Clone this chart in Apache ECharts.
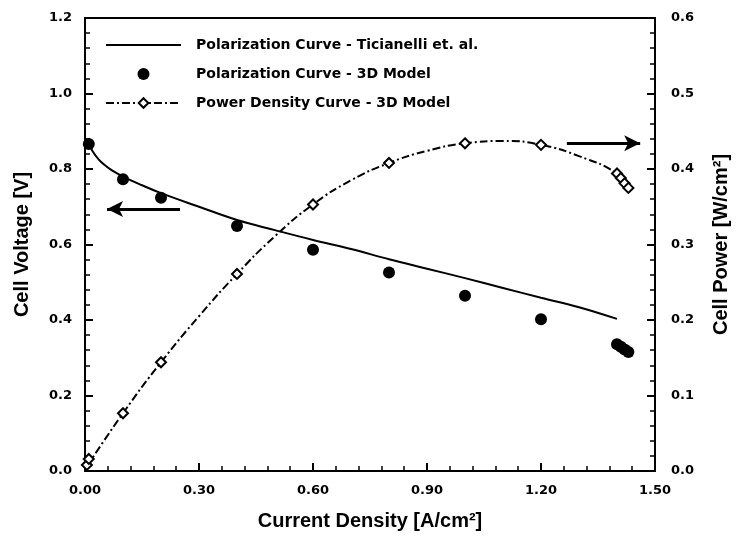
<!DOCTYPE html>
<html>
<head>
<meta charset="utf-8">
<script src="https://cdn.jsdelivr.net/npm/echarts@6/dist/echarts.min.js"></script>
<style>
html,body{margin:0;padding:0;background:#fff;}
#chart{width:741px;height:538px;}
</style>
</head>
<body>
<div id="chart"></div>
<script>
// Ticianelli polarization curve
const currentTic = [0.01, 0.02, 0.037, 0.05, 0.07, 0.1, 0.15, 0.2, 0.3, 0.4, 0.5, 0.6, 0.7, 0.8, 0.9, 1.0, 1.1, 1.2, 1.3, 1.40];
const voltageTic = [0.868, 0.847, 0.824, 0.812, 0.797, 0.780, 0.757, 0.736, 0.700, 0.665, 0.638, 0.612, 0.588, 0.561, 0.536, 0.511, 0.485, 0.459, 0.434, 0.403];
// 3D model polarization points
const currentModel = [0.01, 0.1, 0.2, 0.4, 0.6, 0.8, 1.0, 1.2, 1.40, 1.41, 1.42, 1.43];
const voltageModel = [0.866, 0.773, 0.724, 0.649, 0.586, 0.526, 0.464, 0.402, 0.336, 0.329, 0.322, 0.315];
// 3D model power density points
const currentPower = [0.005, 0.01, 0.1, 0.2, 0.4, 0.6, 0.8, 1.0, 1.2, 1.40, 1.41, 1.42, 1.43];
const powerModel = [0.008, 0.016, 0.0765, 0.144, 0.261, 0.353, 0.408, 0.434, 0.432, 0.394, 0.388, 0.381, 0.375];
// power density fitted curve (dash-dot)
const currentPowerCurve = [0.005, 0.1, 0.2, 0.3, 0.4, 0.5, 0.6, 0.7, 0.8, 0.9, 1.0, 1.1, 1.2, 1.3, 1.4, 1.43];
const powerCurve = [0.006, 0.0765, 0.144, 0.205, 0.261, 0.311, 0.353, 0.385, 0.408, 0.424, 0.434, 0.437, 0.432, 0.417, 0.394, 0.375];
// axis ticks
const xTicks = [0, 0.3, 0.6, 0.9, 1.2, 1.5];
const voltTicks = [0, 0.2, 0.4, 0.6, 0.8, 1.0, 1.2];
const powerTicks = [0, 0.1, 0.2, 0.3, 0.4, 0.5, 0.6];
// arrows [x1, y1, x2, y2]
const arrowVoltage = [0.25, 0.694, 0.058, 0.694];
const arrowPower = [1.268, 0.434, 1.461, 0.434];

const FONT = 'Liberation Sans';
const FONT2 = 'DejaVu Sans';
const zip = (a, b) => a.map((v, i) => [v, b[i]]);
const PNAME = 'Power Density Curve - 3D Model';

const chart = echarts.init(document.getElementById('chart'), null, {renderer: 'canvas'});

function axisCommon() {
  return {
    axisLine: {show: true, onZero: false, lineStyle: {color: '#000', width: 2}},
    axisTick: {show: true, inside: true, length: 8, lineStyle: {color: '#000', width: 2}},
    minorTick: {show: true, splitNumber: 5, length: 5, lineStyle: {color: '#000', width: 1.5}},
    splitLine: {show: false},
    minorSplitLine: {show: false}
  };
}
const nameStyle = {fontFamily: FONT, fontWeight: 'bold', fontSize: 20, color: '#000'};
const labStyle = {fontFamily: FONT2, fontWeight: 'bold', fontSize: 13, color: '#000'};

const option = {
  backgroundColor: '#fff',
  animation: false,
  grid: {left: 85, right: 86, top: 18, bottom: 67, show: true, borderColor: '#000', borderWidth: 2},
  legend: {
    orient: 'vertical',
    left: 100,
    top: 33,
    itemWidth: 75,
    itemHeight: 12,
    itemGap: 15,
    textStyle: {fontFamily: FONT2, fontWeight: 'bold', fontSize: 14, color: '#000', padding: [0, 0, 0, 10]},
    data: [
      {name: 'Polarization Curve - Ticianelli et. al.', itemStyle: {opacity: 0}},
      'Polarization Curve - 3D Model',
      PNAME
    ]
  },
  xAxis: Object.assign(axisCommon(), {
    type: 'value', min: xTicks[0], max: xTicks[xTicks.length - 1], interval: 0.3,
    name: 'Current Density [A/cm\u00B2]', nameLocation: 'middle', nameGap: 40,
    nameTextStyle: nameStyle,
    axisLabel: Object.assign({margin: 13, formatter: v => v.toFixed(2)}, labStyle)
  }),
  yAxis: [
    Object.assign(axisCommon(), {
      type: 'value', position: 'left', min: voltTicks[0], max: voltTicks[voltTicks.length - 1], interval: 0.2,
      name: 'Cell Voltage [V]', nameLocation: 'middle', nameGap: 53, nameRotate: 90,
      nameTextStyle: nameStyle,
      axisLabel: Object.assign({margin: 13, formatter: v => v.toFixed(1)}, labStyle)
    }),
    Object.assign(axisCommon(), {
      type: 'value', position: 'right', min: powerTicks[0], max: powerTicks[powerTicks.length - 1], interval: 0.1,
      name: 'Cell Power [W/cm\u00B2]', nameLocation: 'middle', nameGap: 56, nameRotate: 90,
      nameTextStyle: nameStyle,
      axisLabel: Object.assign({margin: 16, formatter: v => v.toFixed(1)}, labStyle)
    })
  ],
  series: [
    {
      name: 'Polarization Curve - Ticianelli et. al.',
      type: 'line', yAxisIndex: 0, smooth: 0.4, symbol: 'none',
      lineStyle: {color: '#000', width: 2},
      itemStyle: {color: 'rgba(0,0,0,0)'},
      data: zip(currentTic, voltageTic),
      z: 3
    },
    {
      name: 'Polarization Curve - 3D Model',
      type: 'scatter', yAxisIndex: 0, symbol: 'circle', symbolSize: 12,
      itemStyle: {color: '#000', opacity: 1},
      data: zip(currentModel, voltageModel),
      markLine: {
        silent: true, symbol: ['none', 'arrow'], symbolSize: [12, 16],
        label: {show: false},
        lineStyle: {color: '#000', width: 3, type: 'solid', opacity: 1},
        data: [[{coord: [arrowVoltage[0], arrowVoltage[1]]}, {coord: [arrowVoltage[2], arrowVoltage[3]]}]]
      },
      z: 4
    },
    {
      name: PNAME,
      type: 'line', yAxisIndex: 1, smooth: 0.5,
      symbol: 'diamond', symbolSize: 10, showSymbol: false,
      lineStyle: {color: '#000', width: 2, type: [8, 3, 2, 3]},
      itemStyle: {color: '#fff', borderColor: '#000', borderWidth: 2},
      data: zip(currentPowerCurve, powerCurve),
      markLine: {
        silent: true, symbol: ['none', 'arrow'], symbolSize: [12, 16],
        label: {show: false},
        lineStyle: {color: '#000', width: 3, type: 'solid', opacity: 1},
        data: [[{coord: [arrowPower[0], arrowPower[1]]}, {coord: [arrowPower[2], arrowPower[3]]}]]
      },
      z: 5
    },
    {
      name: PNAME,
      type: 'scatter', yAxisIndex: 1, symbol: 'diamond', symbolSize: 10,
      itemStyle: {color: '#fff', borderColor: '#000', borderWidth: 2, opacity: 1},
      data: zip(currentPower, powerModel),
      z: 6
    }
  ]
};
chart.setOption(option);
</script>
</body>
</html>
